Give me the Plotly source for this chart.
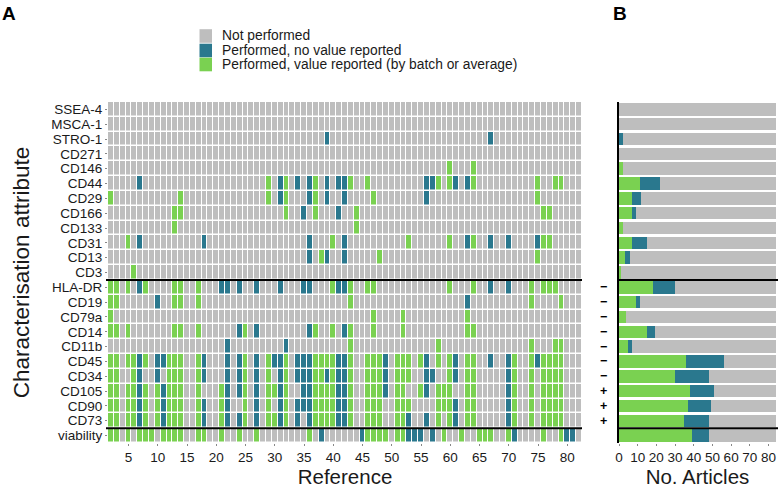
import plotly.graph_objects as go

# ---------------- data ----------------
attributes = ["SSEA-4", "MSCA-1", "STRO-1", "CD271", "CD146", "CD44", "CD29", "CD166",
              "CD133", "CD31", "CD13", "CD3", "HLA-DR", "CD19", "CD79a", "CD14", "CD11b",
              "CD45", "CD34", "CD105", "CD90", "CD73", "viability"]
references = list(range(2, 83))
total_articles = 84

# Panel A: references with a value reported (green)
value_reported = {
    "SSEA-4": [], "MSCA-1": [], "STRO-1": [], "CD271": [],
    "CD146": [60, 64],
    "CD44": [29, 32, 37, 43, 46, 58, 60, 64, 75, 78, 79],
    "CD29": [2, 14, 29, 32, 37, 47, 75],
    "CD166": [13, 14, 32, 37, 44, 76, 77],
    "CD133": [13, 44],
    "CD31": [5, 40, 53, 60, 64, 76, 77],
    "CD13": [38, 48, 75],
    "CD3": [6],
    "HLA-DR": [2, 3, 5, 8, 13, 14, 17, 40, 43, 46, 47, 60, 64, 74, 76, 77, 78],
    "CD19": [2, 3, 13, 14, 17, 43, 74, 79],
    "CD79a": [2, 47, 52, 63],
    "CD14": [2, 3, 5, 13, 14, 17, 25, 37, 40, 43, 47, 52, 63, 64],
    "CD11b": [43, 58, 74, 78, 79],
    "CD45": [2, 3, 5, 6, 8, 12, 13, 14, 17, 25, 29, 32, 37, 38, 39, 40, 43, 46, 47, 48, 51, 52,
             53, 55, 58, 60, 63, 64, 71, 74, 76, 77, 78, 79],
    "CD34": [2, 3, 6, 12, 13, 14, 17, 25, 29, 32, 37, 38, 40, 43, 46, 47, 48, 51, 52, 53, 60,
             63, 64, 71, 74, 76, 77, 78, 79],
    "CD105": [2, 3, 5, 6, 8, 10, 12, 13, 14, 17, 21, 25, 29, 30, 32, 37, 38, 39, 40, 43, 46, 47,
              48, 51, 52, 55, 58, 59, 60, 63, 64, 71, 74, 76, 77, 78, 79],
    "CD90": [2, 3, 5, 6, 8, 10, 12, 13, 14, 17, 21, 25, 29, 32, 37, 38, 39, 40, 43, 46, 47, 48,
             51, 52, 53, 58, 59, 60, 63, 64, 71, 74, 76, 77, 78, 79],
    "CD73": [2, 3, 5, 6, 8, 10, 12, 13, 14, 17, 21, 25, 29, 30, 32, 37, 38, 39, 40, 43, 46, 47,
             48, 51, 52, 58, 60, 63, 64, 71, 74, 76, 77, 78, 79],
    "viability": [2, 3, 5, 7, 8, 9, 11, 12, 13, 14, 17, 18, 21, 24, 27, 36, 46, 47, 48, 49, 51,
                  52, 59, 62, 65, 66, 67, 70, 76, 79],
}
# Panel A: references performed but no value reported (teal)
no_value = {
    "SSEA-4": [], "MSCA-1": [], "CD271": [], "CD146": [], "CD133": [], "CD3": [], "CD79a": [],
    "STRO-1": [39, 67],
    "CD44": [7, 31, 34, 36, 39, 41, 42, 56, 57, 61, 63],
    "CD29": [31, 36, 39, 42, 56],
    "CD166": [35, 41],
    "CD31": [7, 18, 36, 42, 63, 67, 70, 75],
    "CD13": [36, 39, 42],
    "HLA-DR": [7, 21, 22, 24, 27, 31, 35, 36, 41, 42, 67, 70],
    "CD19": [10, 63],
    "CD14": [24, 27, 36, 42],
    "CD11b": [22, 32],
    "CD45": [7, 10, 11, 18, 22, 24, 27, 30, 31, 34, 35, 36, 41, 42, 49, 56, 61, 67, 70, 75],
    "CD34": [7, 10, 18, 22, 24, 27, 31, 34, 35, 36, 39, 41, 42, 49, 56, 57, 61, 70],
    "CD105": [7, 11, 22, 24, 27, 31, 35, 36, 41, 42, 49, 56, 70],
    "CD90": [7, 11, 18, 22, 27, 31, 34, 35, 36, 41, 42, 61, 70],
    "CD73": [7, 11, 18, 22, 24, 27, 31, 34, 36, 41, 42, 53, 56, 61, 70],
    "viability": [38, 45, 53, 54, 55, 57, 71, 80, 81],
}
# Panel B: number of articles per attribute
bar_value_reported = [0, 0, 0, 0, 2, 11, 7, 7, 2, 7, 3, 1, 18, 9, 4, 15, 5, 36, 30, 38, 37, 35, 39]
bar_no_value = [0, 0, 2, 0, 0, 11, 5, 2, 0, 8, 3, 0, 12, 2, 0, 4, 2, 20, 18, 13, 12, 13, 9]

marker_signs = {"HLA-DR": "−", "CD19": "−", "CD79a": "−", "CD14": "−", "CD11b": "−",
                "CD45": "−", "CD34": "−", "CD105": "+", "CD90": "+", "CD73": "+"}
legend_labels = ["Not performed", "Performed, no value reported",
                 "Performed, value reported (by batch or average)"]
x_ticks = [5, 10, 15, 20, 25, 30, 35, 40, 45, 50, 55, 60, 65, 70, 75, 80]
bar_ticks = [0, 10, 20, 30, 40, 50, 60, 70, 80]

# ---------------- style ----------------
GRAY, TEAL, GREEN = "#BEBEBE", "#2A788E", "#7AD151"
FONT = "Liberation Sans, Arial, sans-serif"
TXT = "#1a1a1a"
W, H = 778, 488

def px(x):
    return x / W

def py(y):
    return 1 - y / H

rows_idx = list(range(len(attributes)))
z = []
for a in attributes:
    g = set(value_reported.get(a, []))
    t = set(no_value.get(a, []))
    z.append([2 if r in g else (1 if r in t else 0) for r in references])

gray_n = [total_articles - g - t for g, t in zip(bar_value_reported, bar_no_value)]

fig = go.Figure()
fig.add_trace(go.Heatmap(
    z=z, x=references, y=rows_idx, zmin=0, zmax=2,
    colorscale=[[0, GRAY], [0.333, GRAY], [0.334, TEAL], [0.666, TEAL], [0.667, GREEN], [1, GREEN]],
    showscale=False, xgap=1, ygap=1.5, hoverinfo="skip", xaxis="x", yaxis="y"))

for vals, col in [(bar_value_reported, GREEN), (bar_no_value, TEAL), (gray_n, GRAY)]:
    fig.add_trace(go.Bar(x=vals, y=rows_idx, orientation="h", marker=dict(color=col, line=dict(width=0)),
                         width=0.84, showlegend=False, hoverinfo="skip", xaxis="x2", yaxis="y2"))

y_top, y_bot = 102, 443
fig.update_layout(
    width=W, height=H, margin=dict(l=0, r=0, t=0, b=0, autoexpand=False),
    paper_bgcolor="white", plot_bgcolor="white", barmode="stack", showlegend=False,
    font=dict(family=FONT, color=TXT, size=13),
    xaxis=dict(domain=[px(108), px(582)], range=[1.5, 82.5], tickvals=x_ticks, automargin=False,
               ticks="outside", ticklen=2, tickcolor="#888", showgrid=False, zeroline=False,
               tickfont=dict(size=13.5, color=TXT), anchor="y",
               title=dict(text="Reference", font=dict(size=20.5, color=TXT), standoff=2)),
    yaxis=dict(domain=[py(y_bot), py(y_top)], range=[22.5, -0.5], tickvals=rows_idx,
               ticktext=attributes, ticks="outside", ticklen=2, tickcolor="#888", automargin=False,
               showgrid=False, zeroline=False, tickfont=dict(size=13.5, color=TXT),
               anchor="x",
               title=dict(text="Characterisation attribute", font=dict(size=22.5, color=TXT),
                          standoff=15)),
    xaxis2=dict(domain=[px(619), px(776)], range=[0, total_articles], tickvals=bar_ticks,
                ticks="outside", ticklen=2, tickcolor="#888", showgrid=False, zeroline=False,
                automargin=False, tickfont=dict(size=13.5, color=TXT), anchor="y2",
                title=dict(text="No. Articles", font=dict(size=20.5, color=TXT), standoff=2)),
    yaxis2=dict(domain=[py(y_bot), py(y_top)], range=[22.5, -0.5], showticklabels=False,
                showgrid=False, zeroline=False, showline=True, linecolor="black", linewidth=2,
                automargin=False, anchor="x2"),
)

shapes = []
for b in [11.5, 21.5]:
    shapes.append(dict(type="line", xref="paper", yref="y", x0=px(106), x1=px(582), y0=b, y1=b,
                       line=dict(color="black", width=2)))
    shapes.append(dict(type="line", xref="paper", yref="y", x0=px(618), x1=1, y0=b, y1=b,
                       line=dict(color="black", width=2)))
# legend swatches
leg_y = [36, 50.5, 64.5]
for yy, col in zip(leg_y, [GRAY, TEAL, GREEN]):
    shapes.append(dict(type="rect", xref="paper", yref="paper", x0=px(199.5), x1=px(212),
                       y0=py(yy - 6.8), y1=py(yy + 6.8), fillcolor=col, line=dict(width=0)))
fig.update_layout(shapes=shapes)

ann = []
for yy, lab in zip(leg_y, legend_labels):
    ann.append(dict(text=lab, xref="paper", yref="paper", x=px(221), y=py(yy), xanchor="left",
                    yanchor="middle", showarrow=False, borderpad=0,
                    font=dict(size=13.8, color=TXT)))
for a, s in marker_signs.items():
    ann.append(dict(text="<b>%s</b>" % s, xref="paper", yref="y", x=px(603.5),
                    y=attributes.index(a), xanchor="center", yanchor="middle", showarrow=False,
                    borderpad=0, font=dict(size=12.5, color="black")))
ann.append(dict(text="<b>A</b>", xref="paper", yref="paper", x=px(0), y=py(1), xanchor="left",
                yanchor="top", showarrow=False, font=dict(size=19, color="black")))
ann.append(dict(text="<b>B</b>", xref="paper", yref="paper", x=px(611), y=py(1), xanchor="left",
                yanchor="top", showarrow=False, font=dict(size=19, color="black")))
fig.update_layout(annotations=ann)

fig.write_html("out.html", config={"displayModeBar": False},
               post_script="document.body.style.margin='0px';document.body.style.padding='0px';")
